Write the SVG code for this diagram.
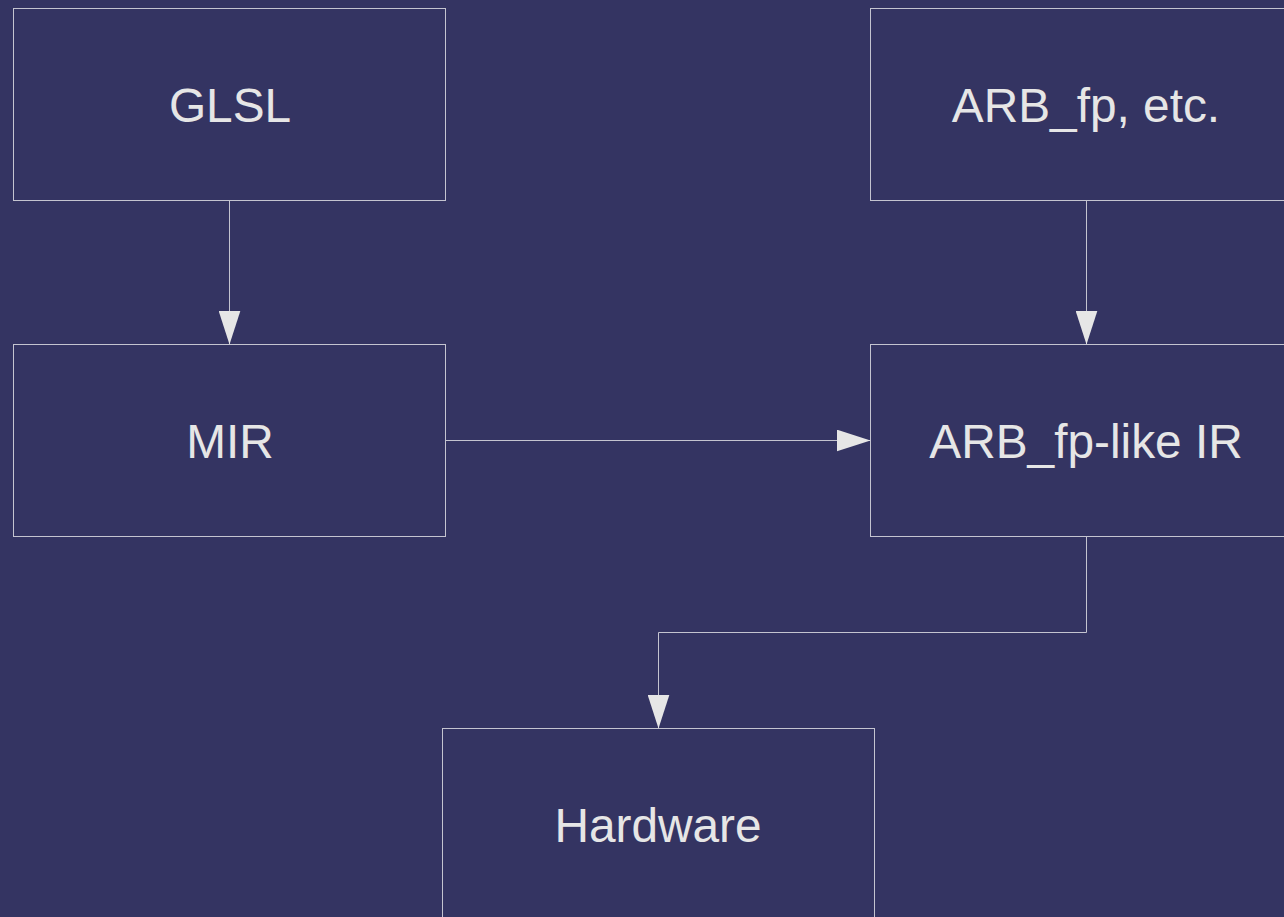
<svg xmlns="http://www.w3.org/2000/svg" width="1284" height="917" viewBox="0 0 1284 917">
<style>
.box{fill:#343462;stroke:#c4c4d0;stroke-width:1}
.lbl{font-family:"Liberation Sans",Arial,sans-serif;font-size:47.8px;fill:#e6e6e6;text-anchor:middle}
.con{fill:none;stroke:#c4c4d0;stroke-width:1}
</style>
<defs>
<marker id="ah" viewBox="0 0 34 22" refX="34" refY="11" markerWidth="34" markerHeight="22" markerUnits="userSpaceOnUse" orient="auto">
<path d="M0,0 L34,11 L0,22 Z" fill="#e6e6e6"/>
</marker>
</defs>
<rect width="1284" height="917" fill="#343462"/>
<g id="glsl"><rect class="box" x="13.5" y="8.5" width="432" height="192"/><text class="lbl" x="230" y="122">GLSL</text></g>
<g id="arbfp"><rect class="box" x="870.5" y="8.5" width="432" height="192"/><text class="lbl" x="1086" y="122">ARB_fp, etc.</text></g>
<g id="mir"><rect class="box" x="13.5" y="344.5" width="432" height="192"/><text class="lbl" x="230" y="458">MIR</text></g>
<g id="arbir"><rect class="box" x="870.5" y="344.5" width="432" height="192"/><text class="lbl" x="1086" y="458">ARB_fp-like IR</text></g>
<g id="hardware"><rect class="box" x="442.5" y="728.5" width="432" height="192"/><text class="lbl" x="658" y="842">Hardware</text></g>
<g id="connectors">
<path class="con" d="M229.5,200.5 V344.5" marker-end="url(#ah)"/>
<path class="con" d="M1086.5,200.5 V344.5" marker-end="url(#ah)"/>
<path class="con" d="M445.5,440.5 H870.5" marker-end="url(#ah)"/>
<path class="con" d="M1086.5,536.5 V632.5 H658.5 V728.5" marker-end="url(#ah)"/>
</g>
</svg>
